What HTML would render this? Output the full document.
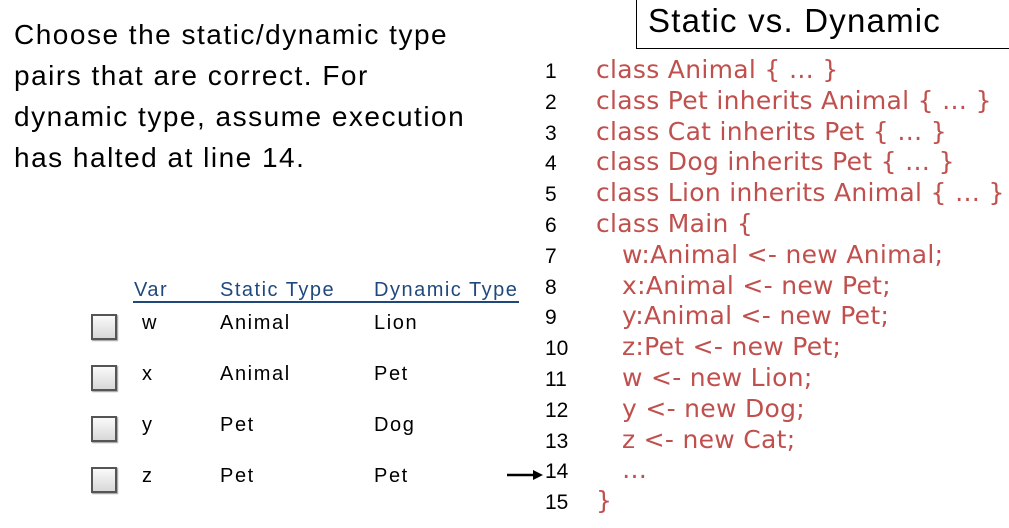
<!DOCTYPE html>
<html><head><meta charset="utf-8"><style>
body{margin:0;width:1009px;height:528px;background:#fff;position:relative;overflow:hidden;font-family:"Liberation Sans",sans-serif}
.a{position:absolute;white-space:nowrap}
.q{font-size:28px;letter-spacing:1.5px;color:#000;left:14px;line-height:41px}
.n{font-size:21px;color:#000;left:545px}
.c{font-family:"DejaVu Sans",sans-serif;font-size:25px;letter-spacing:0.3px;color:#c0504d}
.t{font-size:20px;letter-spacing:1.6px;color:#000}
.h{font-size:20px;letter-spacing:1.5px;color:#1f497d}
.cb{position:absolute;left:91px;width:22px;height:22px;border:2px solid #555;background:linear-gradient(#fafafa,#d8d8d8);box-shadow:1px 1px 1px #999}
</style></head><body>
<div class="a" style="left:636px;top:0;width:373px;height:48px;border-left:1px solid #000;border-bottom:1px solid #000"></div>
<div class="a" style="left:648px;top:2px;font-size:33px;letter-spacing:1.2px">Static vs. Dynamic</div>
<div class="a q" style="top:14px">Choose the static/dynamic type</div>
<div class="a q" style="top:55px">pairs that are correct. For</div>
<div class="a q" style="top:96px">dynamic type, assume execution</div>
<div class="a q" style="top:137px">has halted at line 14.</div>

<div class="a h" style="left:134px;top:279px">Var</div>
<div class="a h" style="left:220px;top:279px">Static Type</div>
<div class="a h" style="left:374px;top:279px">Dynamic Type</div>
<div class="a" style="left:133px;top:301px;width:386px;height:2px;background:#1f497d"></div>

<div class="cb" style="top:314px"></div><div class="a t" style="left:142px;top:312px">w</div><div class="a t" style="left:220px;top:312px">Animal</div><div class="a t" style="left:374px;top:312px">Lion</div>
<div class="cb" style="top:365px"></div><div class="a t" style="left:142px;top:363px">x</div><div class="a t" style="left:220px;top:363px">Animal</div><div class="a t" style="left:374px;top:363px">Pet</div>
<div class="cb" style="top:416px"></div><div class="a t" style="left:142px;top:414px">y</div><div class="a t" style="left:220px;top:414px">Pet</div><div class="a t" style="left:374px;top:414px">Dog</div>
<div class="cb" style="top:467px"></div><div class="a t" style="left:142px;top:465px">z</div><div class="a t" style="left:220px;top:465px">Pet</div><div class="a t" style="left:374px;top:465px">Pet</div>

<svg class="a" style="left:505px;top:467px" width="40" height="16"><line x1="2" y1="8" x2="30" y2="8" stroke="#000" stroke-width="2.5"/><polygon points="28,3 38,8 28,13" fill="#000"/></svg>

<div class="a n" style="top:60px">1</div><div class="a c" style="left:596px;top:55px">class Animal { … }</div>
<div class="a n" style="top:91px">2</div><div class="a c" style="left:596px;top:86px">class Pet inherits Animal { … }</div>
<div class="a n" style="top:122px">3</div><div class="a c" style="left:596px;top:117px">class Cat inherits Pet { … }</div>
<div class="a n" style="top:152px">4</div><div class="a c" style="left:596px;top:147px">class Dog inherits Pet { … }</div>
<div class="a n" style="top:183px">5</div><div class="a c" style="left:596px;top:178px">class Lion inherits Animal { … }</div>
<div class="a n" style="top:214px">6</div><div class="a c" style="left:596px;top:209px">class Main {</div>
<div class="a n" style="top:245px">7</div><div class="a c" style="left:622px;top:240px">w:Animal &lt;- new Animal;</div>
<div class="a n" style="top:276px">8</div><div class="a c" style="left:622px;top:271px">x:Animal &lt;- new Pet;</div>
<div class="a n" style="top:306px">9</div><div class="a c" style="left:622px;top:301px">y:Animal &lt;- new Pet;</div>
<div class="a n" style="top:337px">10</div><div class="a c" style="left:622px;top:332px">z:Pet &lt;- new Pet;</div>
<div class="a n" style="top:368px">11</div><div class="a c" style="left:622px;top:363px">w &lt;- new Lion;</div>
<div class="a n" style="top:399px">12</div><div class="a c" style="left:622px;top:394px">y &lt;- new Dog;</div>
<div class="a n" style="top:430px">13</div><div class="a c" style="left:622px;top:425px">z &lt;- new Cat;</div>
<div class="a n" style="top:460px">14</div><div class="a c" style="left:622px;top:455px">…</div>
<div class="a n" style="top:491px">15</div><div class="a c" style="left:596px;top:486px">}</div>
</body></html>
